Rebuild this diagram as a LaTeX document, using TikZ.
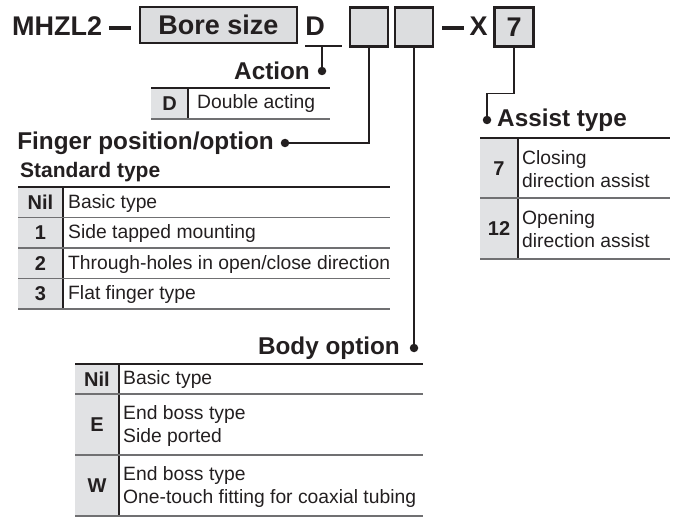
\documentclass[tikz,border=0pt]{standalone}
\usepackage{fontspec}
\setmainfont{Liberation Sans}
\usetikzlibrary{positioning}
\definecolor{ink}{HTML}{231F20}
\definecolor{boxgray}{HTML}{DCDDDF}
\definecolor{keygray}{HTML}{E1E2E4}
\definecolor{rulegray}{HTML}{707072}
\tikzset{
  every picture/.style={line join=miter, line cap=butt},
  code/.style={font=\fontsize{27}{30}\selectfont\bfseries, text=ink, inner sep=0pt},
  codebox/.style={draw=ink, fill=boxgray, line width=2.2pt},
  head/.style={font=\fontsize{24.3}{27}\selectfont\bfseries, text=ink, inner sep=0pt},
  subhead/.style={font=\fontsize{21}{24}\selectfont\bfseries, text=ink, inner sep=0pt},
  key/.style={font=\fontsize{20}{22}\selectfont\bfseries, text=ink, inner sep=0pt},
  smallkey/.style={font=\fontsize{20}{22}\selectfont\bfseries, text=ink, inner sep=0pt},
  desc/.style={font=\fontsize{19.3}{22.5}\selectfont, text=ink, align=left, anchor=west, inner sep=0pt},
  lead/.style={draw=ink, line width=1.8pt},
  dashbar/.style={draw=ink, line width=3.2pt},
  dot/.style={circle, fill=ink, inner sep=0pt, minimum size=8.5pt},
  topline/.style={draw=ink, line width=2.2pt},
  rowline/.style={draw=rulegray, line width=1.1pt},
  colline/.style={draw=ink, line width=1.3pt},
  keyfill/.style={fill=keygray},
}
\begin{document}
\begin{tikzpicture}[x=1pt,y=-1pt]
\useasboundingbox (0,0) rectangle (679,529);

% model code row
\node[code, anchor=west] (model) at (12,26) {MHZL2};
\draw[dashbar] ([xshift=7pt,yshift=-2pt]model.east) -- ++(22,0);
\node[codebox, code, minimum width=157pt, minimum height=36pt] (bore) at (218.5,25) {Bore size};
\node[code] (act) at (315,26) {D};
\draw[lead] (305,46) -- (342,46);
\coordinate (actbar) at (322,46);
\node[codebox, minimum width=38pt, minimum height=39pt] (fing) at (369,27) {};
\node[codebox, minimum width=38pt, minimum height=39pt] (body) at (414,27) {};
\draw[dashbar] (442,28) -- (464,28);
\node[code] (xmark) at (478.5,26) {X};
\node[codebox, code, minimum width=39pt, minimum height=39pt] (assist) at (514,27) {7};

% action
\node[dot] (actdot) at (322,71) {};
\node[head, anchor=east] (acthead) at (310,71) {Action};
\draw[lead] (actbar) -- (actdot);
\fill[keyfill] (151,88) rectangle (188,119);
\draw[colline] (188,88) -- (188,119);
\draw[topline] (151,88) -- (330,88);
\draw[rowline] (151,119) -- (330,119);
\node[smallkey] (actkey) at (169.5,103.5) {D};
\node[desc] (actdesc) at (197,104) {Double acting};

% finger position/option
\node[dot] (fingdot) at (285,143) {};
\node[head, anchor=east] (finghead) at (274,143) {Finger position/option};
\draw[lead] (fing.south) |- (fingdot);
\node[subhead, anchor=west] (stdhead) at (20,172) {Standard type};
\fill[keyfill] (18,187) rectangle (63,309);
\draw[colline] (63,187) -- (63,309);
\foreach \k/\t [count=\i] in {Nil/{Basic type}, 1/{Side tapped mounting}, 2/{Through-holes in open/close direction}, 3/{Flat finger type}}{
  \node[key] (fkey\i) at (40.5,{187+30.5*(\i-0.5)}) {\k};
  \node[desc] (fdesc\i) at (68,{188+30.5*(\i-0.5)}) {\t};
  \draw[rowline] (18,{187+30.5*\i}) -- (390,{187+30.5*\i});
}
\draw[topline] (18,187) -- (390,187);

% assist type
\node[dot] (asdot) at (487,120) {};
\node[head, anchor=west] (ashead) at (497,120) {Assist type};
\draw[lead] (assist.south) -- ++(0,46) -| (asdot);
\fill[keyfill] (480,138) rectangle (518,259);
\draw[colline] (518,138) -- (518,259);
\draw[rowline] (480,198) -- (670,198);
\draw[rowline] (480,259) -- (670,259);
\draw[topline] (480,138) -- (670,138);
\node[key] (akey1) at (499,169) {7};
\node[desc] (adesc1) at (522,169) {Closing\\direction assist};
\node[key] (akey2) at (499,229) {12};
\node[desc] (adesc2) at (522,229) {Opening\\direction assist};

% body option
\node[dot] (bodydot) at (414,348) {};
\node[head, anchor=east] (bodyhead) at (400,348) {Body option};
\draw[lead] (body.south) -- (bodydot);
\fill[keyfill] (75,364) rectangle (119,516);
\draw[colline] (119,364) -- (119,516);
\draw[rowline] (75,394) -- (423,394);
\draw[rowline] (75,455) -- (423,455);
\draw[rowline] (75,516) -- (423,516);
\draw[topline] (75,364) -- (423,364);
\node[smallkey] (bkey1) at (97,379) {Nil};
\node[desc] (bdesc1) at (123,380) {Basic type};
\node[smallkey] (bkey2) at (97,425) {E};
\node[desc] (bdesc2) at (123,426) {End boss type\\Side ported};
\node[smallkey] (bkey3) at (97,486) {W};
\node[desc] (bdesc3) at (123,487) {End boss type\\One-touch fitting for coaxial tubing};
\end{tikzpicture}
\end{document}
